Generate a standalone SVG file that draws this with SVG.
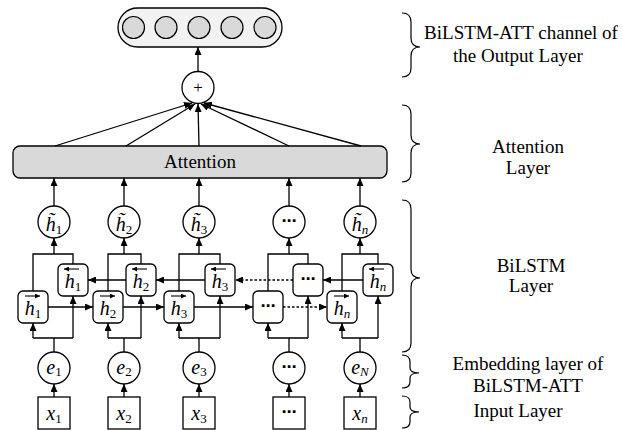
<svg xmlns="http://www.w3.org/2000/svg" width="623" height="430" viewBox="0 0 623 430">
<defs>
<marker id="ah" markerUnits="userSpaceOnUse" markerWidth="8" markerHeight="7" refX="8" refY="3.5" orient="auto">
<path d="M0,0 L8,3.5 L0,7 z" fill="#000"/>
</marker>
<marker id="acc" markerUnits="userSpaceOnUse" markerWidth="5" markerHeight="5" refX="5" refY="2.5" orient="auto">
<path d="M0,0 L5,2.5 L0,5 z" fill="#000"/>
</marker>
<style>
.ln{fill:none;stroke:#000;stroke-width:1.3}
.ar{fill:none;stroke:#000;stroke-width:1.3;marker-end:url(#ah)}
.dt{stroke-dasharray:2.5,2}
.acc{fill:none;stroke:#000;stroke-width:1.1;marker-end:url(#acc)}
.cell{fill:#fff;stroke:#000;stroke-width:1.3}
.circ{fill:#fff;stroke:#000;stroke-width:1.3}
.t{font-family:"Liberation Serif","Times New Roman",serif;fill:#000}
.lab{font-family:"Liberation Serif","Times New Roman",serif;font-size:19px;fill:#000;text-anchor:middle}
.v{font-family:"Liberation Serif","Times New Roman",serif;font-size:20px;font-style:italic;fill:#000;text-anchor:middle}
.sub{font-size:13px;font-style:normal}
.subi{font-size:13px;font-style:italic}
.dots{font-family:"DejaVu Sans",sans-serif;font-size:15px;font-weight:bold;fill:#000;text-anchor:middle}
.br{fill:none;stroke:#000;stroke-width:1.2}
</style>
</defs>

<!-- Output layer -->
<g id="output">
<rect x="118" y="8" width="164" height="39" rx="19.5" fill="#f2f2f2" stroke="#000" stroke-width="1.3"/>
<circle cx="133.5" cy="27.5" r="11" fill="#d9d9d9" stroke="#000" stroke-width="1.2"/>
<circle cx="166" cy="27.5" r="11" fill="#d9d9d9" stroke="#000" stroke-width="1.2"/>
<circle cx="199" cy="27.5" r="11" fill="#d9d9d9" stroke="#000" stroke-width="1.2"/>
<circle cx="232" cy="27.5" r="11" fill="#d9d9d9" stroke="#000" stroke-width="1.2"/>
<circle cx="265" cy="27.5" r="11" fill="#d9d9d9" stroke="#000" stroke-width="1.2"/>
</g>

<g id="plus">
<circle class="circ" cx="198" cy="87.5" r="16"/>
<text class="t" x="198" y="93" font-size="17" text-anchor="middle">+</text>
</g>

<g id="attention">
<rect x="13" y="146" width="374" height="32" rx="7" fill="#d9d9d9" stroke="#000" stroke-width="1.3"/>
<text class="lab" x="200" y="168">Attention</text>
</g>

<!-- h tilde nodes -->
<g id="ht1"><circle class="circ" cx="54" cy="222" r="16"/><text class="v" x="54" y="231">h̃<tspan class="sub" dy="3">1</tspan></text></g>
<g id="ht2"><circle class="circ" cx="124" cy="222" r="16"/><text class="v" x="124" y="231">h̃<tspan class="sub" dy="3">2</tspan></text></g>
<g id="ht3"><circle class="circ" cx="199" cy="222" r="16"/><text class="v" x="199" y="231">h̃<tspan class="sub" dy="3">3</tspan></text></g>
<g id="ht4"><circle class="circ" cx="289" cy="222" r="16"/><text class="dots" x="289" y="226">⋯</text></g>
<g id="ht5"><circle class="circ" cx="360" cy="222" r="16"/><text class="v" x="360" y="231">h̃<tspan class="subi" dy="3">n</tspan></text></g>

<!-- backward cells -->
<g id="hb1"><rect class="cell" x="58" y="264" width="30" height="32" rx="5"/><text class="v" x="73" y="288">h<tspan class="sub" dy="3">1</tspan></text><path class="acc" d="M79,269 H64"/></g>
<g id="hb2"><rect class="cell" x="126" y="264" width="30" height="32" rx="5"/><text class="v" x="141" y="288">h<tspan class="sub" dy="3">2</tspan></text><path class="acc" d="M147,269 H132"/></g>
<g id="hb3"><rect class="cell" x="205" y="264" width="30" height="32" rx="5"/><text class="v" x="220" y="288">h<tspan class="sub" dy="3">3</tspan></text><path class="acc" d="M226,269 H211"/></g>
<g id="hb4"><rect class="cell" x="293" y="264" width="30" height="32" rx="5"/><text class="dots" x="308" y="284">⋯</text></g>
<g id="hb5"><rect class="cell" x="363" y="264" width="30" height="32" rx="5"/><text class="v" x="378" y="288">h<tspan class="subi" dy="3">n</tspan></text><path class="acc" d="M384,269 H369"/></g>

<!-- forward cells -->
<g id="hf1"><rect class="cell" x="18" y="291" width="30" height="32" rx="5"/><text class="v" x="33" y="315">h<tspan class="sub" dy="3">1</tspan></text><path class="acc" d="M25,296 H40"/></g>
<g id="hf2"><rect class="cell" x="93" y="291" width="30" height="32" rx="5"/><text class="v" x="108" y="315">h<tspan class="sub" dy="3">2</tspan></text><path class="acc" d="M100,296 H115"/></g>
<g id="hf3"><rect class="cell" x="164" y="291" width="30" height="32" rx="5"/><text class="v" x="179" y="315">h<tspan class="sub" dy="3">3</tspan></text><path class="acc" d="M171,296 H186"/></g>
<g id="hf4"><rect class="cell" x="253" y="291" width="30" height="32" rx="5"/><text class="dots" x="268" y="311">⋯</text></g>
<g id="hf5"><rect class="cell" x="327" y="291" width="30" height="32" rx="5"/><text class="v" x="342" y="315">h<tspan class="subi" dy="3">n</tspan></text><path class="acc" d="M334,296 H349"/></g>

<!-- embedding nodes -->
<g id="e1"><circle class="circ" cx="54" cy="368" r="16"/><text class="v" x="54" y="374">e<tspan class="sub" dy="2">1</tspan></text></g>
<g id="e2"><circle class="circ" cx="124" cy="368" r="16"/><text class="v" x="124" y="374">e<tspan class="sub" dy="2">2</tspan></text></g>
<g id="e3"><circle class="circ" cx="199" cy="368" r="16"/><text class="v" x="199" y="374">e<tspan class="sub" dy="2">3</tspan></text></g>
<g id="e4"><circle class="circ" cx="289" cy="368" r="16"/><text class="dots" x="289" y="372">⋯</text></g>
<g id="e5"><circle class="circ" cx="360" cy="368" r="16"/><text class="v" x="360" y="374">e<tspan class="subi" dy="2">N</tspan></text></g>

<!-- input nodes -->
<g id="x1"><rect class="cell" x="38" y="397" width="32" height="32" rx="0"/><text class="v" x="54" y="420">x<tspan class="sub" dy="3">1</tspan></text></g>
<g id="x2"><rect class="cell" x="108" y="397" width="32" height="32" rx="0"/><text class="v" x="124" y="420">x<tspan class="sub" dy="3">2</tspan></text></g>
<g id="x3"><rect class="cell" x="183" y="397" width="32" height="32" rx="0"/><text class="v" x="199" y="420">x<tspan class="sub" dy="3">3</tspan></text></g>
<g id="x4"><rect class="cell" x="273" y="397" width="32" height="32" rx="0"/><text class="dots" x="289" y="417">⋯</text></g>
<g id="x5"><rect class="cell" x="344" y="397" width="32" height="32" rx="0"/><text class="v" x="360" y="420">x<tspan class="subi" dy="3">n</tspan></text></g>

<!-- connectors -->
<g id="connectors">
<path class="ar" d="M198,71 V47"/>
<path class="ar" d="M55,146 L192,103"/>
<path class="ar" d="M126,146 L195,104"/>
<path class="ar" d="M199,146 L198,104"/>
<path class="ar" d="M289,146 L201,104"/>
<path class="ar" d="M361,146 L204,103"/>

<path class="ar" d="M54,206 V178"/>
<path class="ar" d="M124,206 V178"/>
<path class="ar" d="M199,206 V178"/>
<path class="ar" d="M289,206 V178"/>
<path class="ar" d="M360,206 V178"/>

<!-- top junctions -->
<path class="ln" d="M33,291 V254 H73 V264"/>
<path class="ln" d="M108,291 V254 H141 V264"/>
<path class="ln" d="M179,291 V254 H220 V264"/>
<path class="ln" d="M268,291 V254 H308 V264"/>
<path class="ln" d="M342,291 V254 H378 V264"/>
<path class="ar" d="M54,254 V238"/>
<path class="ar" d="M124,254 V238"/>
<path class="ar" d="M199,254 V238"/>
<path class="ar" d="M289,254 V238"/>
<path class="ar" d="M360,254 V238"/>

<!-- bottom junctions -->
<path class="ln" d="M54,352 V338 M33,338 H73"/>
<path class="ln" d="M124,352 V338 M108,338 H141"/>
<path class="ln" d="M199,352 V338 M179,338 H220"/>
<path class="ln" d="M289,352 V338 M268,338 H308"/>
<path class="ln" d="M360,352 V338 M342,338 H378"/>
<path class="ar" d="M33,338 V323"/>
<path class="ar" d="M73,338 V296"/>
<path class="ar" d="M108,338 V323"/>
<path class="ar" d="M141,338 V296"/>
<path class="ar" d="M179,338 V323"/>
<path class="ar" d="M220,338 V296"/>
<path class="ar" d="M268,338 V323"/>
<path class="ar" d="M308,338 V296"/>
<path class="ar" d="M342,338 V323"/>
<path class="ar" d="M378,338 V296"/>

<!-- forward chain -->
<path class="ar" d="M48,307 H93"/>
<path class="ar" d="M123,307 H164"/>
<path class="ar" d="M194,307 H253"/>
<path class="ar dt" d="M283,307 H327"/>
<!-- backward chain -->
<path class="ar" d="M363,280 H323"/>
<path class="ar dt" d="M293,280 H235"/>
<path class="ar" d="M205,280 H156"/>
<path class="ar" d="M126,280 H88"/>

<!-- input to embedding -->
<path class="ar" d="M54,397 V384"/>
<path class="ar" d="M124,397 V384"/>
<path class="ar" d="M199,397 V384"/>
<path class="ar" d="M289,397 V384"/>
<path class="ar" d="M360,397 V384"/>
</g>

<!-- braces and layer labels -->
<g id="layer-labels">
<path class="br" d="M402,13 Q411,13 411,22 V38 Q411,47 420,47 Q411,47 411,56 V68 Q411,77 402,77"/>
<path class="br" d="M402,105 Q411,105 411,114 V135 Q411,144 420,144 Q411,144 411,153 V173 Q411,182 402,182"/>
<path class="br" d="M402,200 Q411,200 411,209 V269 Q411,278 420,278 Q411,278 411,287 V343 Q411,352 402,352"/>
<path class="br" d="M402,355 Q410,355 410,362 V368 Q410,373 419,373 Q410,373 410,378 V382 Q410,388 402,388"/>
<path class="br" d="M402,396 Q410,396 410,402 V407 Q410,412 419,412 Q410,412 410,417 V422 Q410,428 402,428"/>
<text class="lab" x="521" y="39">BiLSTM-ATT channel of</text>
<text class="lab" x="518" y="62">the Output Layer</text>
<text class="lab" x="528" y="153">Attention</text>
<text class="lab" x="528" y="174">Layer</text>
<text class="lab" x="531" y="272">BiLSTM</text>
<text class="lab" x="531" y="292">Layer</text>
<text class="lab" x="528" y="370">Embedding layer of</text>
<text class="lab" x="528" y="392">BiLSTM-ATT</text>
<text class="lab" x="518" y="417">Input Layer</text>
</g>
</svg>
